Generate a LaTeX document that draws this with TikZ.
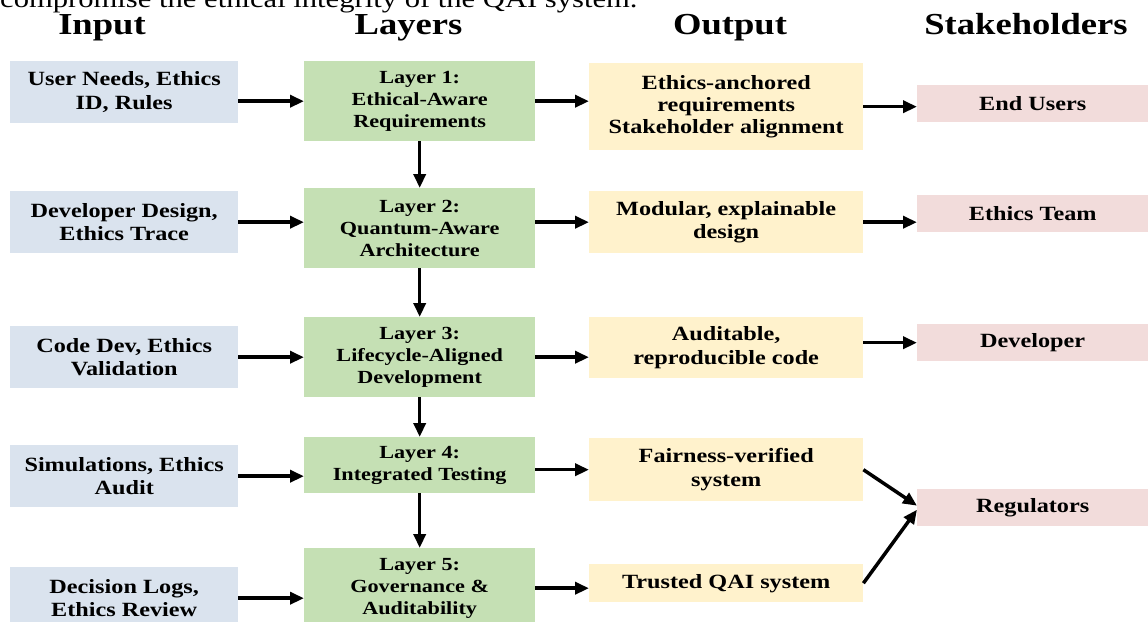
\documentclass[tikz,border=0pt]{standalone}
\usepackage{fontspec}
\setmainfont{Liberation Serif}[FakeStretch=1.2]
\usetikzlibrary{arrows.meta}

\definecolor{inblue}{HTML}{DAE3EE}
\definecolor{laygreen}{HTML}{C5E0B4}
\definecolor{outyellow}{HTML}{FFF2CC}
\definecolor{stpink}{HTML}{F2DCDB}

\begin{document}
\begin{tikzpicture}[x=1pt,y=-1pt,
  box/.style={anchor=north west, inner sep=0pt, align=center,
    font=\fontsize{20.2}{23.5}\selectfont\bfseries, text=black},
  inbox/.style={box, fill=inblue, minimum width=228pt, minimum height=62pt},
  laybox/.style={box, fill=laygreen, minimum width=231pt, minimum height=80pt,
    font=\fontsize{18.5}{21.8}\selectfont\bfseries},
  outbox/.style={box, fill=outyellow, minimum width=274pt},
  stbox/.style={box, fill=stpink, minimum width=231pt, minimum height=37pt},
  flow/.style={-{Triangle[length=14pt,width=12pt]}, line width=3.5pt},
  head/.style={anchor=base, inner sep=0pt,
    font=\fontsize{30.5}{36}\selectfont\bfseries}
]
\clip (0,0) rectangle (1148,621);

% running text above the figure
\node[anchor=base west, inner sep=0pt, font=\fontsize{25.5}{30}\selectfont]
  (caption) at (0,8) {compromise the ethical integrity of the QAI system.};

% column headings
\node[head] (hin)  at (102,34)  {Input};
\node[head] (hlay) at (408.5,34) {Layers};
\node[head] (hout) at (730,34)  {Output};
\node[head] (hst)  at (1026,34) {Stakeholders};

% inputs
\node[inbox] (b1) at (10,61)  {User Needs, Ethics\\ID, Rules};
\node[inbox] (b2) at (10,191) {Developer Design,\\Ethics Trace};
\node[inbox] (b3) at (10,326) {Code Dev, Ethics\\Validation};
\node[inbox] (b4) at (10,445) {Simulations, Ethics\\Audit};
\node[inbox] (b5) at (10,567) {Decision Logs,\\Ethics Review};

% layers
\node[laybox] (g1) at (304,61)  {Layer 1:\\Ethical-Aware\\Requirements};
\node[laybox] (g2) at (304,188) {Layer 2:\\Quantum-Aware\\Architecture};
\node[laybox] (g3) at (304,317) {Layer 3:\\Lifecycle-Aligned\\Development};
\node[laybox, minimum height=56pt] (g4) at (304,437) {Layer 4:\\Integrated Testing};
\node[laybox] (g5) at (304,548) {Layer 5:\\Governance \&\\Auditability};

% outputs
\node[outbox, minimum height=87pt, font=\fontsize{20.2}{22}\selectfont\bfseries] (y1) at (589,63)
  {Ethics-anchored\\requirements\\Stakeholder alignment};
\node[outbox, minimum height=62pt] (y2) at (589,191) {Modular, explainable\\design};
\node[outbox, minimum height=61pt] (y3) at (589,317) {Auditable,\\reproducible code};
\node[outbox, minimum height=63pt] (y4) at (589,438) {Fairness-verified\\system};
\node[outbox, minimum height=38pt] (y5) at (589,564) {Trusted QAI system};

% stakeholders
\node[stbox] (p1) at (917,85)  {End Users};
\node[stbox] (p2) at (917,195) {Ethics Team};
\node[stbox] (p3) at (917,324) {Developer};
\node[stbox] (p4) at (917,489) {Regulators};

% inputs into layers
\draw[flow] (g1.west -| b1.east) -- (g1.west);
\draw[flow] (b2.east) -- (b2.east -| g2.west);
\draw[flow] (b3.east) -- (b3.east -| g3.west);
\draw[flow] (b4.east) -- (b4.east -| g4.west);
\draw[flow] (b5.east) -- (b5.east -| g5.west);

% layer sequence
\draw[flow] (g1.south) -- (g2.north);
\draw[flow] (g2.south) -- (g3.north);
\draw[flow] (g3.south) -- (g4.north);
\draw[flow] (g4.south) -- (g5.north);

% layers into outputs
\draw[flow] (g1.east) -- (g1.east -| y1.west);
\draw[flow] (y2.west -| g2.east) -- (y2.west);
\draw[flow] (g3.east) -- (g3.east -| y3.west);
\draw[flow] (y4.west -| g4.east) -- (y4.west);
\draw[flow] (g5.east) -- (g5.east -| y5.west);

% outputs to stakeholders
\draw[flow] (y1.east) -- (y1.east -| p1.west);
\draw[flow] (y2.east) -- (y2.east -| p2.west);
\draw[flow] (p3.west -| y3.east) -- (p3.west);
\draw[flow] (y4.east) -- ([yshift=2pt]p4.west);
\draw[flow] (y5.east) -- ([yshift=-2pt]p4.west);
\end{tikzpicture}
\end{document}
